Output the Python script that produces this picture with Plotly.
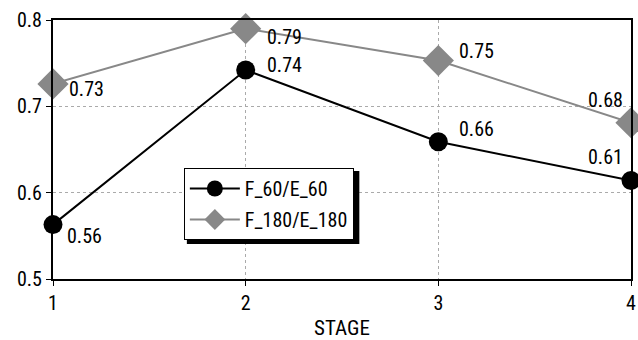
import plotly.graph_objects as go

stages = [1, 2, 3, 4]
f60_e60 = [0.563, 0.742, 0.659, 0.614]
f180_e180 = [0.726, 0.790, 0.753, 0.681]
y_ticks = [0.5, 0.6, 0.7, 0.8]
x_ticks = [1, 2, 3, 4]

FONT = "Roboto Condensed, Liberation Sans Narrow, sans-serif"

fig = go.Figure()
fig.add_trace(go.Scatter(
    x=stages, y=f60_e60, name="F_60/E_60", mode="lines+markers",
    legendgroup="a",
    line=dict(color="black", width=2),
    marker=dict(symbol="circle", size=19, color="black"),
    cliponaxis=False,
))
fig.add_trace(go.Scatter(
    x=stages, y=f180_e180, name="F_180/E_180", mode="lines+markers",
    legendgroup="b",
    line=dict(color="#888888", width=2),
    marker=dict(symbol="diamond", size=24, color="#888888"),
    cliponaxis=False,
))

# value labels: (xshift, yshift, xanchor) per point
f60_offsets = [(12, -11, "left"), (19, 5, "left"), (19, 13, "left"), (-6, 24, "right")]
f180_offsets = [(14, -5, "left"), (19, -8, "left"), (19, 10, "left"), (-6, 23, "right")]
for series, offsets in ((f60_e60, f60_offsets), (f180_e180, f180_offsets)):
    for xv, yv, (dx, dy, anc) in zip(stages, series, offsets):
        fig.add_annotation(x=xv, y=yv, text=f"{yv:.2f}", showarrow=False,
                           xanchor=anc, yanchor="middle", xshift=dx, yshift=dy,
                           font=dict(family=FONT, size=20, color="black"))

# drop shadow behind the legend box (offset down-right)
fig.add_shape(type="rect", xref="paper", yref="paper",
              x0=0.2316, x1=0.5300, y0=0.1351, y1=0.4170,
              fillcolor="black", line=dict(width=0), layer="above")

fig.update_layout(
    width=638, height=340,
    margin=dict(l=53, r=2, t=20, b=61),
    paper_bgcolor="white", plot_bgcolor="white",
    font=dict(family=FONT, size=20, color="black"),
    showlegend=True,
    legend=dict(x=0.2264, y=0.4286, xanchor="left", yanchor="top",
                bgcolor="white", bordercolor="black", borderwidth=1,
                font=dict(family=FONT, size=20), itemwidth=50,
                tracegroupgap=2, itemsizing="trace"),
    xaxis=dict(range=[1, 4], tickvals=x_ticks, showline=True, linecolor="black",
               linewidth=2, mirror=True, ticks="outside", ticklen=5,
               tickcolor="black", showgrid=True, gridcolor="#aaaaaa",
               griddash="dot", gridwidth=1, zeroline=False,
               ticklabeloverflow="allow",
               title=dict(text="STAGE", font=dict(family=FONT, size=21), standoff=8)),
    yaxis=dict(range=[0.5, 0.8], tickvals=y_ticks, tickformat=".1f",
               showline=True, linecolor="black", linewidth=2, mirror=True,
               ticks="outside", ticklen=5, tickcolor="black",
               showgrid=True, gridcolor="#aaaaaa", griddash="dot", gridwidth=1,
               zeroline=False),
)

fig.write_html("out.html")
